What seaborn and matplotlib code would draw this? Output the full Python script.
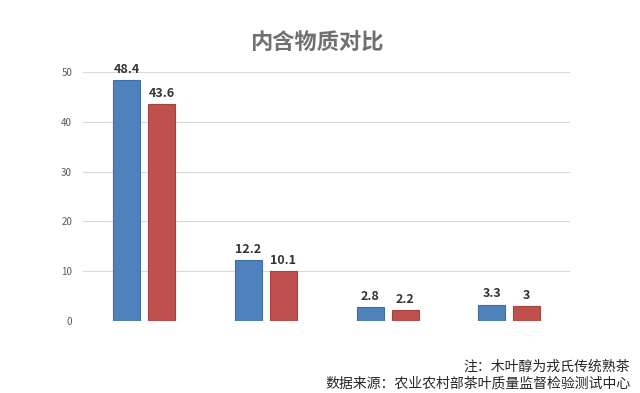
import matplotlib
matplotlib.use("Agg")
import matplotlib.pyplot as plt
import seaborn as sns
import pandas as pd

categories = ["A", "B", "C", "D"]
series_names = ["木叶醇", "对照"]
series1 = [48.4, 12.2, 2.8, 3.3]
series2 = [43.6, 10.1, 2.2, 3]
label_text1 = ["48.4", "12.2", "2.8", "3.3"]
label_text2 = ["43.6", "10.1", "2.2", "3"]
y_ticks = [0, 10, 20, 30, 40, 50]

sns.set_theme(style="white")
plt.rcParams['font.family'] = ['Noto Sans CJK SC', 'DejaVu Sans']

df = pd.DataFrame({
    "cat": categories * 2,
    "series": [series_names[0]] * 4 + [series_names[1]] * 4,
    "value": series1 + series2,
})

fig = plt.figure(figsize=(6.4, 3.93), dpi=100)
ax = fig.add_axes([0.13, 0.183, 0.761, 0.634])

sns.barplot(data=df, x="cat", y="value", hue="series",
            palette=["#4F81BD", "#C0504D"], width=0.575, gap=0.23,
            saturation=1, legend=False, ax=ax, linewidth=0.8)
for p in ax.patches:
    fc = p.get_facecolor()
    p.set_edgecolor((fc[0]*0.85, fc[1]*0.85, fc[2]*0.85, 1))

labels_all = [label_text1, label_text2]
for ci, cont in enumerate(ax.containers):
    ax.bar_label(cont, labels=labels_all[ci], padding=3, fontsize=9,
                 fontweight="bold", color="#333333", clip_on=False)

ax.set_xlim(-0.5, 3.5)
ax.set_ylim(0, 50)
ax.set_yticks(y_ticks)
ax.set_yticklabels([str(t) for t in y_ticks], fontsize=7, color="#595959")
ax.tick_params(axis="y", length=0, pad=8)
ax.set_xticks([])
ax.set_xlabel("")
ax.set_ylabel("")
ax.grid(axis="y", color="#D9D9D9", linewidth=0.8)
ax.set_axisbelow(True)
for s in ax.spines.values():
    s.set_visible(False)

fig.text(0.495, 0.89, "内含物质对比", ha="center", va="center",
         fontsize=16, fontweight="bold", color="#707070")
fig.text(0.985, 0.068, "注：木叶醇为戎氏传统熟茶", ha="right", va="center",
         fontsize=10, color="#262626")
fig.text(0.985, 0.025, "数据来源：农业农村部茶叶质量监督检验测试中心", ha="right", va="center",
         fontsize=10, color="#262626")

fig.savefig("out.png", dpi=100)
